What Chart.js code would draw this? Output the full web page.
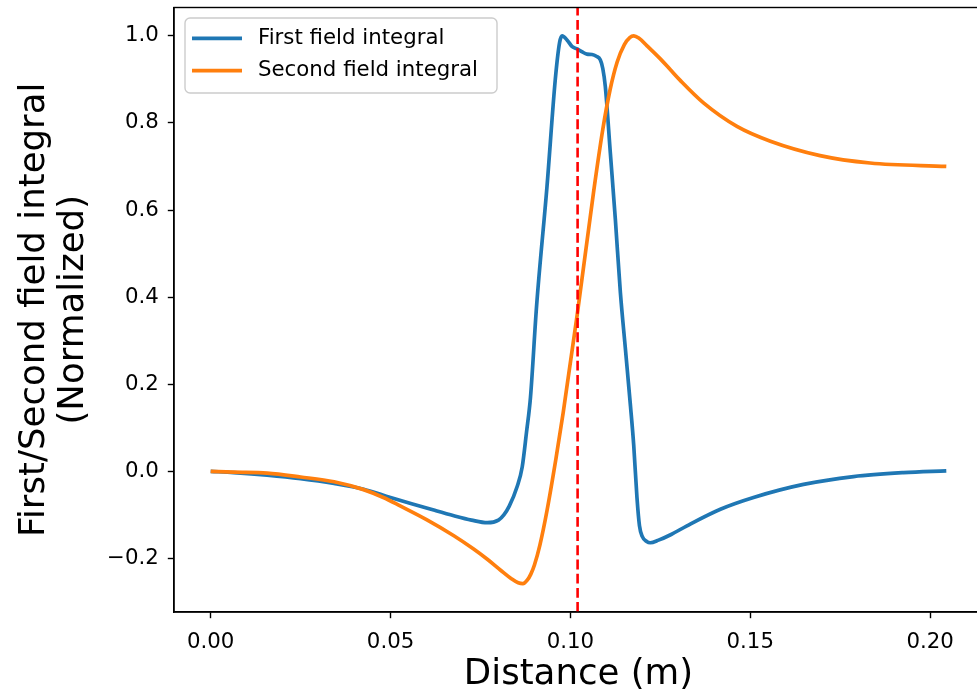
<!DOCTYPE html>
<html>
<head>
<meta charset="utf-8">
<script src="https://cdn.jsdelivr.net/npm/chart.js@4"></script>
<style>
  html, body { margin: 0; padding: 0; background: #ffffff; overflow: hidden; }
  #wrap { width: 990px; height: 693px; }
</style>
</head>
<body>
<div id="wrap"><canvas id="c" width="990" height="693"></canvas></div>
<script>
// ---- data ----
const seriesLabels = ['First field integral', 'Second field integral'];

const firstX = [0, 0.0064, 0.0157, 0.025, 0.0343, 0.0425, 0.0480, 0.0528, 0.0583, 0.062, 0.0676, 0.0725, 0.0769,
  0.0800, 0.0815, 0.0830, 0.0852, 0.0866, 0.0878, 0.0889, 0.0906, 0.0935, 0.0958, 0.0970, 0.0977,
  0.0991, 0.1005, 0.1019, 0.1033, 0.1046, 0.1060, 0.1072, 0.1083, 0.1090, 0.1097, 0.1111, 0.1125,
  0.1139, 0.1153, 0.1167, 0.1176, 0.1185, 0.1192, 0.1200, 0.1212, 0.1222, 0.1245, 0.1280, 0.1324,
  0.1417, 0.1509, 0.1648, 0.1787, 0.1926, 0.2045];
const firstY = [0, -0.003, -0.009, -0.017, -0.028, -0.041, -0.055, -0.067, -0.080, -0.089, -0.102, -0.112, -0.118,
  -0.112, -0.100, -0.080, -0.035, 0.010, 0.090, 0.170, 0.380, 0.655, 0.900, 0.985, 1.000,
  0.990, 0.975, 0.970, 0.963, 0.958, 0.957, 0.953, 0.945, 0.925, 0.884, 0.731, 0.578,
  0.410, 0.280, 0.150, 0.060, -0.060, -0.125, -0.150, -0.161, -0.164, -0.158, -0.145, -0.125,
  -0.087, -0.060, -0.030, -0.012, -0.003, 0.001];

const secondX = [0, 0.0064, 0.0157, 0.025, 0.0343, 0.0425, 0.0480, 0.0528, 0.0600, 0.0676, 0.0730, 0.0769,
  0.0806, 0.0835, 0.0855, 0.0868, 0.0880, 0.0890, 0.0900, 0.0915, 0.0935, 0.0960, 0.0980, 0.1019,
  0.1065, 0.1090, 0.1110, 0.1130, 0.1150, 0.1165, 0.1176, 0.1190, 0.1213, 0.1250, 0.1278, 0.1306,
  0.1370, 0.1463, 0.1556, 0.1694, 0.1833, 0.2045];
const secondY = [0, -0.002, -0.004, -0.013, -0.024, -0.042, -0.060, -0.080, -0.111, -0.148, -0.178, -0.202,
  -0.227, -0.246, -0.256, -0.258, -0.250, -0.236, -0.215, -0.170, -0.090, 0.030, 0.135, 0.360,
  0.645, 0.785, 0.875, 0.940, 0.980, 0.996, 1.000, 0.995, 0.977, 0.947, 0.922, 0.897,
  0.846, 0.792, 0.758, 0.725, 0.708, 0.700];

const markerX = 0.102;           // red dashed vertical line
const xTicks = [0, 0.05, 0.10, 0.15, 0.20];
const yTicks = [-0.2, 0, 0.2, 0.4, 0.6, 0.8, 1.0];
const xRange = [-0.0102, 0.2147];
const yRange = [-0.323, 1.065];
const xTitle = 'Distance (m)';
const yTitle = ['First/Second field integral', '(Normalized)'];

// ---- styling ----
const FONT = '"DejaVu Sans", sans-serif';
const BLUE = '#1f77b4', ORANGE = '#ff7f0e';
const LW = 3.7;

const toPts = (xs, ys) => xs.map((x, i) => ({ x: x, y: ys[i] }));
const fmt = (v, d) => (v < 0 ? '\u2212' : '') + Math.abs(v).toFixed(d);

const framePlugin = {
  id: 'frameAndLegend',
  afterDatasetsDraw(chart) {
    const { ctx, chartArea: a } = chart;
    ctx.save();
    // axes frame (spines)
    ctx.strokeStyle = '#000';
    ctx.lineWidth = 1.4;
    ctx.strokeRect(a.left, a.top, a.right - a.left, a.bottom - a.top);
    // legend (matplotlib style, upper left)
    const bx = a.left + 11, by = a.top + 10.5, bw = 312, bh = 75, r = 5;
    ctx.beginPath();
    ctx.moveTo(bx + r, by);
    ctx.arcTo(bx + bw, by, bx + bw, by + bh, r);
    ctx.arcTo(bx + bw, by + bh, bx, by + bh, r);
    ctx.arcTo(bx, by + bh, bx, by, r);
    ctx.arcTo(bx, by, bx + bw, by, r);
    ctx.closePath();
    ctx.fillStyle = 'rgba(255,255,255,0.8)';
    ctx.fill();
    ctx.strokeStyle = '#cccccc';
    ctx.lineWidth = 1.4;
    ctx.stroke();
    const ds = chart.data.datasets.filter(d => seriesLabels.includes(d.label))
      .sort((p, q) => seriesLabels.indexOf(p.label) - seriesLabels.indexOf(q.label));
    ds.forEach((d, i) => {
      const y = by + 20.3 + i * 32.4;
      ctx.strokeStyle = d.borderColor;
      ctx.lineWidth = LW;
      ctx.beginPath();
      ctx.moveTo(bx + 7, y);
      ctx.lineTo(bx + 57, y);
      ctx.stroke();
      ctx.fillStyle = '#000';
      ctx.font = '21.3px ' + FONT;
      ctx.textBaseline = 'middle';
      ctx.textAlign = 'left';
      ctx.fillText(d.label, bx + 73, y);
    });
    ctx.restore();
  }
};

new Chart(document.getElementById('c'), {
  type: 'line',
  data: {
    datasets: [
      {
        label: 'marker', data: [{ x: markerX, y: yRange[0] }, { x: markerX, y: yRange[1] }],
        borderColor: '#ff0000', borderWidth: 2.6, borderDash: [9.9, 4.3], pointRadius: 0, order: 0
      },
      {
        label: seriesLabels[1], data: toPts(secondX, secondY),
        borderColor: ORANGE, borderWidth: LW, pointRadius: 0, cubicInterpolationMode: 'monotone',
        borderCapStyle: 'butt', borderJoinStyle: 'round', order: 1
      },
      {
        label: seriesLabels[0], data: toPts(firstX, firstY),
        borderColor: BLUE, borderWidth: LW, pointRadius: 0, cubicInterpolationMode: 'monotone',
        borderCapStyle: 'butt', borderJoinStyle: 'round', order: 2
      }
    ]
  },
  options: {
    responsive: false,
    animation: false,
    events: [],
    layout: { padding: { left: 0, top: 7.5, right: 7, bottom: 0 } },
    plugins: { legend: { display: false }, tooltip: { enabled: false } },
    scales: {
      x: {
        type: 'linear', min: xRange[0], max: xRange[1],
        afterBuildTicks: s => { s.ticks = xTicks.map(v => ({ value: v })); },
        afterFit: s => { s.height = 81; s.paddingLeft = 0; s.paddingRight = 0; },
        grid: { drawOnChartArea: false, drawTicks: true, tickLength: 6.2, tickWidth: 1.4, tickColor: '#000' },
        border: { display: true, color: '#000', width: 1.4 },
        ticks: { color: '#000', font: { family: FONT, size: 21.3 }, padding: 11, maxRotation: 0,
          callback: v => fmt(v, 2) },
        title: { display: true, text: xTitle, color: '#000', font: { family: FONT, size: 35.6, lineHeight: 1.0 },
          padding: { top: 0, bottom: 0 } }
      },
      y: {
        type: 'linear', min: yRange[0], max: yRange[1],
        afterBuildTicks: s => { s.ticks = yTicks.map(v => ({ value: v })); },
        afterFit: s => { s.width = 174; s.paddingTop = 0; s.paddingBottom = 0; },
        grid: { drawOnChartArea: false, drawTicks: true, tickLength: 6.2, tickWidth: 1.4, tickColor: '#000' },
        border: { display: true, color: '#000', width: 1.4 },
        ticks: { color: '#000', font: { family: FONT, size: 21.3 }, padding: 9,
          callback: v => fmt(v, 1) },
        title: { display: true, text: yTitle, color: '#000', font: { family: FONT, size: 35.6, lineHeight: 1.1 },
          padding: { top: 15.5, bottom: 0 } }
      }
    }
  },
  plugins: [framePlugin]
});
</script>
</body>
</html>
